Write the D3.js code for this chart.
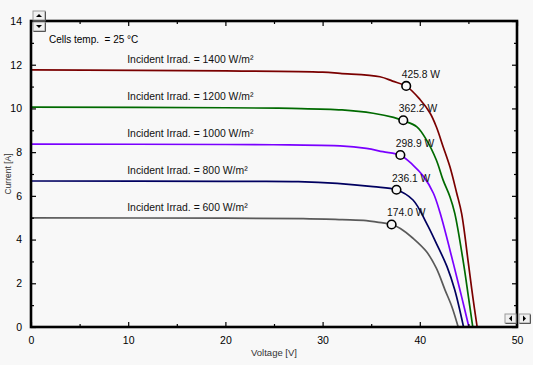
<!DOCTYPE html>
<html>
<head>
<meta charset="utf-8">
<script src="https://cdn.jsdelivr.net/npm/d3@7"></script>
<style>
  html, body { margin: 0; padding: 0; background: #f8f8f8; }
  svg { display: block; font-family: "Liberation Sans", Arial, sans-serif; }
  text { white-space: pre; }
</style>
</head>
<body>
<svg id="chart" width="533" height="365"></svg>
<script>
// ---- Data ----
const irradiance = [1400, 1200, 1000, 800, 600];

const v1400 = [0, 20, 30, 31.8, 35.9, 37.2, 38.6, 40.0, 41.05, 41.7, 42.4, 43.1, 43.8, 44.3, 45.0, 45.45, 45.9];
const i1400 = [11.76, 11.72, 11.66, 11.60, 11.45, 11.25, 11.02, 10.42, 9.79, 9.16, 8.25, 7.33, 6.12, 5.2, 2.91, 1.39, 0];

const v1200 = [0, 20, 26.8, 32, 35.2, 37.3, 38.3, 39.7, 40.7, 41.7, 42.4, 43.1, 43.6, 44.5, 45.0, 45.45];
const i1200 = [10.06, 10.03, 10.0, 9.93, 9.78, 9.59, 9.44, 9.16, 8.55, 7.64, 6.72, 5.96, 5.2, 2.91, 1.39, 0];

const v1000 = [0, 20, 26.5, 31.8, 34.5, 36.2, 38.0, 39.3, 40.4, 41.4, 42.1, 43.45, 44.3, 45.05];
const i1000 = [8.37, 8.35, 8.33, 8.29, 8.17, 8.02, 7.86, 7.41, 6.88, 6.12, 5.2, 2.91, 1.39, 0];

const v800 = [0, 20, 27.5, 31.5, 35.2, 37.6, 39.3, 40.7, 41.7, 42.8, 43.6, 44.5];
const i800 = [6.68, 6.66, 6.65, 6.57, 6.42, 6.28, 5.81, 4.74, 3.83, 2.76, 1.69, 0];

const v600 = [0, 20, 28, 32, 34.5, 35.6, 37.1, 38.0, 39.3, 40.7, 41.7, 42.6, 43.3, 43.95];
const i600 = [4.99, 4.98, 4.96, 4.91, 4.87, 4.80, 4.69, 4.51, 4.06, 3.44, 2.69, 1.69, 0.93, 0];

const mppV = [38.6, 38.3, 38.0, 37.6, 37.1];
const mppI = [11.03, 9.46, 7.87, 6.28, 4.69];
const mppLabels = ["425.8 W", "362.2 W", "298.9 W", "236.1 W", "174.0 W"];

const xTicks = [0, 10, 20, 30, 40, 50];
const yTicks = [0, 2, 4, 6, 8, 10, 12, 14];

// ---- Styles ----
const colors = ["#7a0000", "#006a00", "#7a00ff", "#000060", "#5a5a5a"];

const voltages = [v1400, v1200, v1000, v800, v600];
const currents = [i1400, i1200, i1000, i800, i600];

const svg = d3.select("#chart");
const W = 533, H = 365;
const m = { left: 31, right: 16, top: 21, bottom: 38 };

const x = d3.scaleLinear().domain([0, 50]).range([m.left, W - m.right]);
const y = d3.scaleLinear().domain([0, 14]).range([H - m.bottom, m.top]);

svg.append("rect").attr("width", W).attr("height", H).attr("fill", "#f8f8f8");

// Curves
const line = d3.line().x(d => x(d[0])).y(d => y(d[1])).curve(d3.curveCatmullRom.alpha(0.5));
irradiance.forEach((g, k) => {
  const pts = voltages[k].map((v, j) => [v, currents[k][j]]);
  svg.append("path").datum(pts).attr("d", line)
    .attr("fill", "none").attr("stroke", colors[k]).attr("stroke-width", 1.7);
  svg.append("text")
    .attr("x", x(9.9)).attr("y", y(currents[k][0]) - 7)
    .attr("font-size", "10.4px").attr("fill", "#111")
    .text("Incident Irrad. = " + g + " W/m²");
});

// MPP markers
irradiance.forEach((g, k) => {
  svg.append("circle").attr("cx", x(mppV[k])).attr("cy", y(mppI[k])).attr("r", 4.3)
    .attr("fill", "#f8f8f8").attr("stroke", "#000").attr("stroke-width", 1.6);
  svg.append("text").attr("x", x(mppV[k]) - 4.5).attr("y", y(mppI[k]) - 8)
    .attr("font-size", "10.3px").attr("fill", "#111").text(mppLabels[k]);
});

svg.append("text").attr("x", 49).attr("y", 43).attr("font-size", "10px").attr("fill", "#000")
  .text("Cells temp.  = 25 °C");

// Axes (ticks inside)
const minorX = d3.range(5, 50, 10);
const minorY = d3.range(1, 14, 2);
const gB = svg.append("g").attr("transform", `translate(0,${y(0)})`);
gB.call(d3.axisBottom(x).tickValues(xTicks).tickSize(-5).tickPadding(10).tickFormat(d3.format("d")));
const gBm = svg.append("g").attr("transform", `translate(0,${y(0)})`);
gBm.call(d3.axisBottom(x).tickValues(minorX).tickSize(-3).tickFormat(""));
const gT = svg.append("g").attr("transform", `translate(0,${y(14)})`);
gT.call(d3.axisTop(x).tickValues(xTicks).tickSize(-5).tickFormat(""));
const gTm = svg.append("g").attr("transform", `translate(0,${y(14)})`);
gTm.call(d3.axisTop(x).tickValues(minorX).tickSize(-3).tickFormat(""));
const gL = svg.append("g").attr("transform", `translate(${x(0)},0)`);
gL.call(d3.axisLeft(y).tickValues(yTicks).tickSize(-5).tickPadding(9).tickFormat(d3.format("d")));
const gLm = svg.append("g").attr("transform", `translate(${x(0)},0)`);
gLm.call(d3.axisLeft(y).tickValues(minorY).tickSize(-3).tickFormat(""));
const gR = svg.append("g").attr("transform", `translate(${x(50)},0)`);
gR.call(d3.axisRight(y).tickValues(yTicks).tickSize(-5).tickFormat(""));
const gRm = svg.append("g").attr("transform", `translate(${x(50)},0)`);
gRm.call(d3.axisRight(y).tickValues(minorY).tickSize(-3).tickFormat(""));

svg.selectAll(".domain").remove();
svg.selectAll(".tick line").attr("stroke", "#000").attr("stroke-width", 1.2);
svg.selectAll(".tick text").attr("font-size", "10.5px").attr("fill", "#000")
  .attr("font-family", "'Liberation Sans', Arial, sans-serif");

// Frame
svg.append("rect").attr("x", x(0)).attr("y", y(14))
  .attr("width", x(50) - x(0)).attr("height", y(0) - y(14))
  .attr("fill", "none").attr("stroke", "#000").attr("stroke-width", 2.6);

// Axis titles
svg.append("text").attr("x", (x(0) + x(50)) / 2).attr("y", 356)
  .attr("text-anchor", "middle").attr("font-size", "9.5px").attr("fill", "#333")
  .text("Voltage [V]");
svg.append("text").attr("transform", `translate(11,${y(7)}) rotate(-90)`)
  .attr("text-anchor", "middle").attr("font-size", "8.5px").attr("fill", "#333")
  .text("Current [A]");

// Scroll buttons
function button(bx, by, w, h, dir) {
  const g = svg.append("g");
  g.append("rect").attr("x", bx).attr("y", by).attr("width", w).attr("height", h)
    .attr("fill", "#f0f0f0").attr("stroke", "#9a9a9a").attr("stroke-width", 1);
  g.append("path").attr("d", `M${bx + 0.5},${by + h + 0.5}H${bx + w + 0.5}V${by + 0.5}`)
    .attr("fill", "none").attr("stroke", "#555").attr("stroke-width", 1);
  const cx = bx + w / 2, cy = by + h / 2;
  let d;
  if (dir === "up") d = `M${cx - 3},${cy + 1.5}L${cx + 3},${cy + 1.5}L${cx},${cy - 1.5}Z`;
  if (dir === "down") d = `M${cx - 3},${cy - 1.5}L${cx + 3},${cy - 1.5}L${cx},${cy + 1.5}Z`;
  if (dir === "left") d = `M${cx + 1.5},${cy - 3}L${cx + 1.5},${cy + 3}L${cx - 1.5},${cy}Z`;
  if (dir === "right") d = `M${cx - 1.5},${cy - 3}L${cx - 1.5},${cy + 3}L${cx + 1.5},${cy}Z`;
  g.append("path").attr("d", d).attr("fill", "#000");
}
button(33, 11, 12, 9, "up");
button(33, 22, 12, 9, "down");
button(505, 314, 11, 9, "left");
button(519, 314, 11, 9, "right");
</script>
</body>
</html>
